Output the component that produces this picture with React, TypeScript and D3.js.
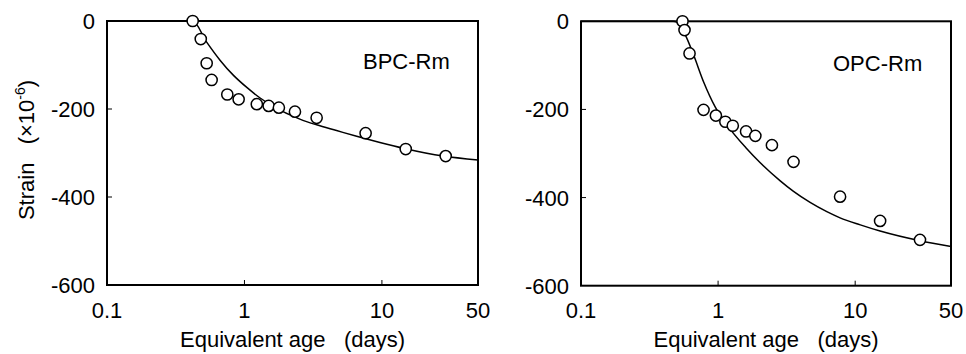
import React from "react";
import * as d3 from "d3";

// ---- Data ----
const xTickValues = [0.1, 1, 10, 50];
const xTickLabels = ["0.1", "1", "10", "50"];
const yTickValues = [0, -200, -400, -600];
const yTickLabels = ["0", "-200", "-400", "-600"];

const bpcAge = [0.42, 0.481, 0.531, 0.577, 0.75, 0.907, 1.23, 1.5, 1.78, 2.33, 3.35, 7.61, 14.9, 29.1];
const bpcStrain = [0, -41, -96, -134, -167, -178, -189, -193, -197, -206, -220, -255, -291, -307];
const bpcCurveAge = [0.1, 0.42, 0.531, 0.664, 0.829, 1.04, 1.3, 1.62, 2.53, 3.35, 4.68, 6.55, 9.67, 14.3, 27.9, 50];
const bpcCurveStrain = [0, 0, -48, -89, -123, -151, -175, -194, -223, -236, -249, -262, -276, -289, -307, -316];

const opcAge = [0.55, 0.569, 0.619, 0.783, 0.964, 1.13, 1.28, 1.6, 1.87, 2.47, 3.55, 7.76, 15.2, 29.7];
const opcStrain = [0, -20, -73, -201, -214, -228, -237, -250, -260, -281, -319, -398, -453, -496];
const opcCurveAge = [0.1, 0.471, 0.5, 0.576, 0.662, 0.783, 0.952, 1.16, 1.595, 2.03, 2.84, 3.55, 4.69, 6.21, 7.76, 10.9, 15.2, 29.7, 50];
const opcCurveStrain = [0, 0, -2, -31, -76, -137, -194, -235, -287, -321, -362, -386, -411, -432, -446, -462, -476, -498, -511];

const FONT = "'Liberation Sans', Arial, Helvetica, sans-serif";

type PanelProps = {
  x0: number;
  x1: number;
  y0: number;
  y1: number;
  label: string;
  labelX: number;
  labelY: number;
  age: number[];
  strain: number[];
  curveAge: number[];
  curveStrain: number[];
};

function Panel(p: PanelProps) {
  const xs = d3.scaleLog().domain([0.1, 50]).range([p.x0, p.x1]);
  const ys = d3.scaleLinear().domain([0, -600]).range([p.y0, p.y1]);
  const curvePts: [number, number][] = p.curveAge.map((a, i) => [a, p.curveStrain[i]]);
  const line = d3
    .line<[number, number]>()
    .x((d) => xs(d[0]))
    .y((d) => ys(d[1]))
    .curve(d3.curveMonotoneX);
  const cx = (p.x0 + p.x1) / 2;
  return (
    <g>
      <path d={line(curvePts) || ""} fill="none" stroke="#000" strokeWidth={1.5} />
      {xTickValues
        .filter((v) => v !== 0.1 && v !== 50)
        .map((v) => (
          <line key={"xt" + v} x1={xs(v)} x2={xs(v)} y1={p.y1} y2={p.y1 - 5} stroke="#000" strokeWidth={1} />
        ))}
      {yTickValues
        .filter((v) => v !== 0 && v !== -600)
        .map((v) => (
          <line key={"yt" + v} x1={p.x0} x2={p.x0 + 5} y1={ys(v)} y2={ys(v)} stroke="#000" strokeWidth={1} />
        ))}
      <rect x={p.x0} y={p.y0} width={p.x1 - p.x0} height={p.y1 - p.y0} fill="none" stroke="#000" strokeWidth={2} />
      {p.age.map((a, i) => (
        <circle key={"c" + i} cx={xs(a)} cy={ys(p.strain[i])} r={5.6} fill="#fff" stroke="#000" strokeWidth={1.5} />
      ))}
      {xTickValues.map((v, i) => (
        <text key={"xl" + v} x={xs(v)} y={318} textAnchor="middle" fontSize={22} fontFamily={FONT} fill="#000">
          {xTickLabels[i]}
        </text>
      ))}
      {yTickValues.map((v, i) => (
        <text key={"yl" + v} x={p.x0 - 12} y={ys(v) + 8} textAnchor="end" fontSize={22} fontFamily={FONT} fill="#000">
          {yTickLabels[i]}
        </text>
      ))}
      <text x={p.labelX} y={p.labelY} fontSize={22} fontFamily={FONT} fill="#000">
        {p.label}
      </text>
      <text x={cx} y={347} textAnchor="middle" fontSize={22} fontFamily={FONT} fill="#000" style={{ whiteSpace: "pre" }}>
        {"Equivalent age   (days)"}
      </text>
    </g>
  );
}

export default function App() {
  return (
    <svg
      width={966}
      height={354}
      viewBox="0 0 966 354"
      style={{ position: "absolute", left: 0, top: 0, background: "#fff" }}
    >
      <rect x={0} y={0} width={966} height={354} fill="#fff" />
      <Panel
        x0={107}
        x1={478}
        y0={21}
        y1={285}
        label="BPC-Rm"
        labelX={363}
        labelY={69}
        age={bpcAge}
        strain={bpcStrain}
        curveAge={bpcCurveAge}
        curveStrain={bpcCurveStrain}
      />
      <Panel
        x0={581}
        x1={951}
        y0={21.3}
        y1={285.7}
        label="OPC-Rm"
        labelX={833}
        labelY={71}
        age={opcAge}
        strain={opcStrain}
        curveAge={opcCurveAge}
        curveStrain={opcCurveStrain}
      />
      <text
        transform="translate(34,150) rotate(-90)"
        textAnchor="middle"
        fontSize={22}
        fontFamily={FONT}
        fill="#000"
        style={{ whiteSpace: "pre" }}
      >
        <tspan>{"Strain   (×10"}</tspan>
        <tspan fontSize={14} dy={-9}>{"-6"}</tspan>
        <tspan dy={9}>{")"}</tspan>
      </text>
    </svg>
  );
}
